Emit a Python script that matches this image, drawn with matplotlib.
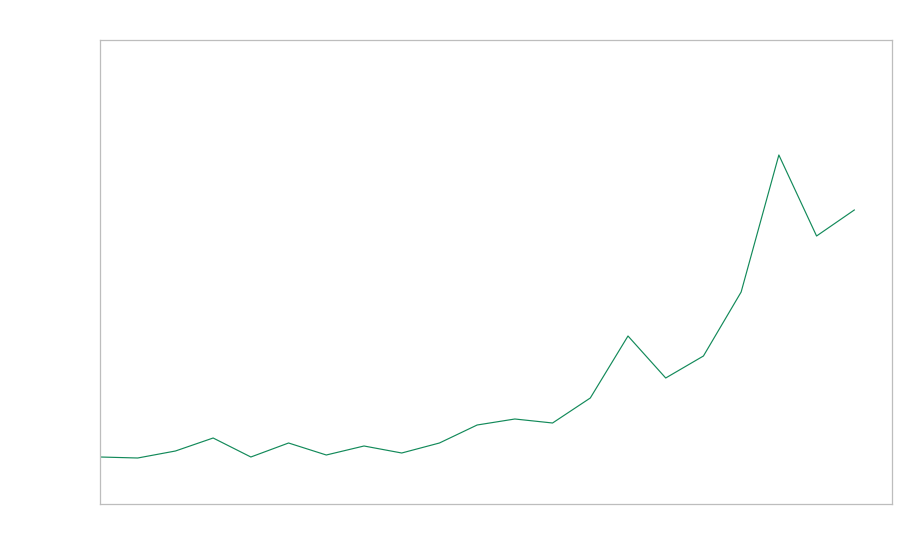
import matplotlib
matplotlib.use("Agg")
import matplotlib.pyplot as plt

# 数据：21 个时间点（无标签）
periods = list(range(21))
values = [47, 46, 53, 66, 47, 61, 49, 58, 51, 61, 79, 85, 81, 106, 168, 126,
          148, 212, 349, 268, 294]

fig = plt.figure(figsize=(9, 5.6), dpi=100)
fig.patch.set_facecolor("#FFFFFF")
ax = fig.add_axes([100 / 900, 56 / 560, 792 / 900, 464 / 560])

ax.plot(periods, values, color="#138a5a", linewidth=0.85)

ax.set_xlim(0, 21)
ax.set_ylim(0, 464)
ax.set_xticks([])
ax.set_yticks([])
for spine in ax.spines.values():
    spine.set_color("#bdbdbd")
    spine.set_linewidth(0.9)

fig.savefig("out.png", dpi=100)
